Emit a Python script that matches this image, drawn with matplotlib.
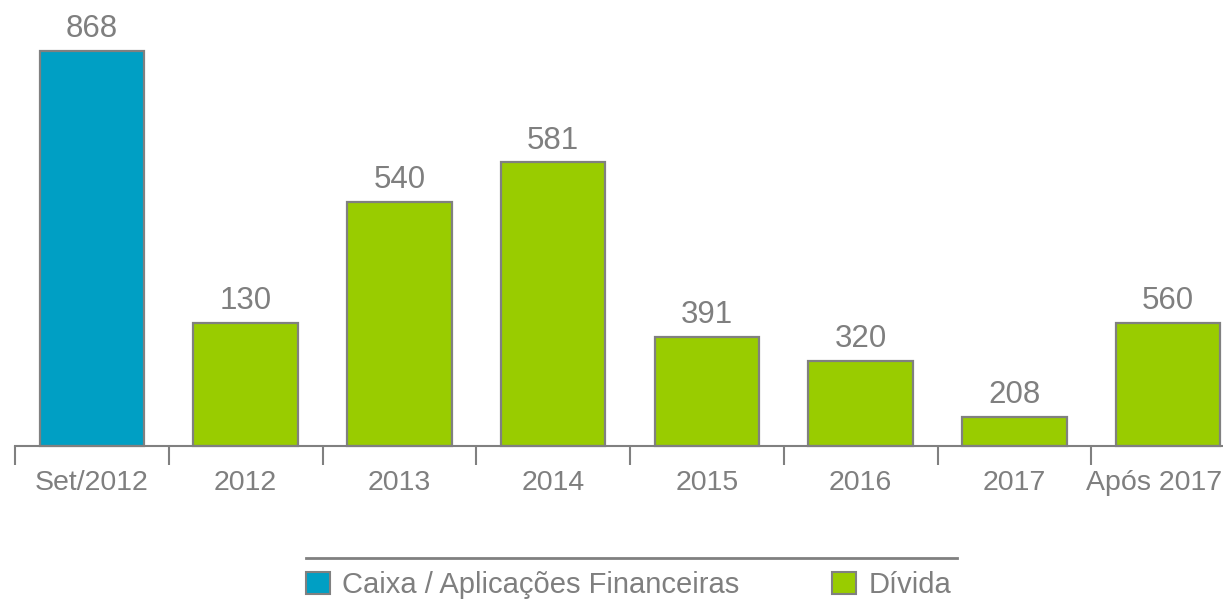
import matplotlib.pyplot as plt
from matplotlib.patches import Patch
from matplotlib.lines import Line2D
from matplotlib.transforms import ScaledTranslation

# categories and printed values
categories = ['Set/2012', '2012', '2013', '2014', '2015', '2016', '2017', 'Após 2017']
values = [868, 130, 540, 581, 391, 320, 208, 560]
# bar heights as drawn in the original (not proportional to the printed values)
bar_heights = [868, 271, 537, 623, 239, 187, 63, 271]
series = ['Caixa', 'Dívida', 'Dívida', 'Dívida', 'Dívida', 'Dívida', 'Dívida', 'Dívida']
legend_labels = ['Caixa / Aplicações Financeiras', 'Dívida']

BLUE = '#009FC4'
GREEN = '#99CC00'
GRAY = '#808080'
TEXT = '#7F7F7F'
plt.rcParams['font.family'] = ['Liberation Sans', 'DejaVu Sans']

fig = plt.figure(figsize=(12.23, 6.02), dpi=100)
ax = fig.add_axes([15 / 1223, 156 / 602, 1230 / 1223, 446 / 602])

x = range(len(categories))
colors = [BLUE if s == 'Caixa' else GREEN for s in series]
ax.bar(x, bar_heights, width=0.68, color=colors, edgecolor=GRAY, linewidth=1.6, clip_on=False)

for i, (h, v) in enumerate(zip(bar_heights, values)):
    ax.annotate(str(v), xy=(i, h), xytext=(0, 10), textcoords='offset points',
                ha='center', va='baseline', fontsize=22.5, color=TEXT)

ax.set_xlim(-0.5, len(categories) - 0.5)
ax.set_ylim(0, 980)

# tick marks between categories, labels centred under bars
ax.set_xticks([i - 0.5 for i in range(len(categories) + 1)])
ax.set_xticklabels([])
ax.tick_params(axis='x', which='major', length=14, width=1.5, color=GRAY, direction='out')
ax.set_xticks(list(x), minor=True)
ax.set_xticklabels(categories, minor=True)
ax.tick_params(axis='x', which='minor', length=0, pad=17, labelsize=20.5, labelcolor=TEXT)
ax.set_yticks([])

# last label is nudged left so it stays inside the figure
last = ax.get_xticklabels(minor=True)[-1]
last.set_transform(last.get_transform() + ScaledTranslation(-14 / 100, 0, fig.dpi_scale_trans))

for s in ['top', 'right', 'left']:
    ax.spines[s].set_visible(False)
ax.spines['bottom'].set_color(GRAY)
ax.spines['bottom'].set_linewidth(1.5)

# legend with rule above it
fig.add_artist(Line2D([306 / 1223, 957 / 1223], [1 - 558 / 602, 1 - 558 / 602],
                      color=GRAY, linewidth=2))
handles = [Patch(facecolor=BLUE, edgecolor=GRAY, linewidth=1.5),
           Patch(facecolor=GREEN, edgecolor=GRAY, linewidth=1.5)]
leg = fig.legend(handles, legend_labels, ncol=2,
                 loc='center left', bbox_to_anchor=(306 / 1223, 1 - 585 / 602),
                 frameon=False, fontsize=21, handlelength=0.82, handleheight=0.82,
                 handletextpad=0.41, columnspacing=3.2, borderpad=0, borderaxespad=0)
for t in leg.get_texts():
    t.set_color(TEXT)

fig.savefig('out.png', dpi=100)
